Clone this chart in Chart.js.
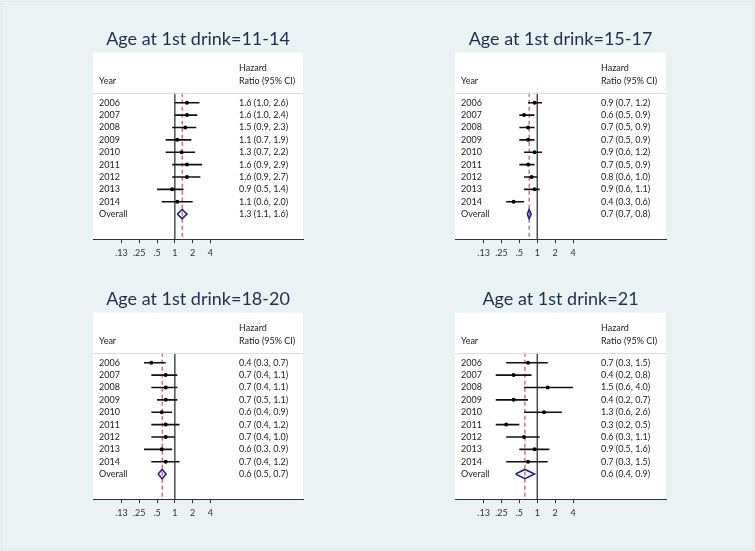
<!DOCTYPE html>
<html>
<head>
<meta charset="utf-8">
<script src="https://cdn.jsdelivr.net/npm/chart.js@4.4.1/dist/chart.umd.min.js"></script>
<style>
  html, body { margin: 0; padding: 0; }
  body { width: 755px; height: 551px; background: #eaf2f3; position: relative; overflow: hidden; }
  #frame { position: absolute; left: 1px; top: 1px; width: 751px; height: 547px; border: 1px solid #dfe8eb; }
  canvas { position: absolute; }
</style>
</head>
<body>
<div id="frame"></div>
<canvas id="c1" width="218" height="250" style="left:89px;top:20px"></canvas>
<canvas id="c2" width="219" height="250" style="left:451px;top:20px"></canvas>
<canvas id="c3" width="218" height="250" style="left:89px;top:280px"></canvas>
<canvas id="c4" width="219" height="250" style="left:451px;top:280px"></canvas>
<script>
// ---------- data ----------
const years = ["2006", "2007", "2008", "2009", "2010", "2011", "2012", "2013", "2014"];
const overallLabel = "Overall";
const tickValues = [0.125, 0.25, 0.5, 1, 2, 4];
const tickLabels = [".13", ".25", ".5", "1", "2", "4"];

const titles = ["Age at 1st drink=11-14", "Age at 1st drink=15-17", "Age at 1st drink=18-20", "Age at 1st drink=21"];

// Age 11-14
const hr1 = [1.6, 1.6, 1.5, 1.1, 1.3, 1.6, 1.6, 0.9, 1.1];
const lo1 = [1.0, 1.0, 0.9, 0.7, 0.7, 0.9, 0.9, 0.5, 0.6];
const hi1 = [2.6, 2.4, 2.3, 1.9, 2.2, 2.9, 2.7, 1.4, 2.0];
const ov1 = [1.33, 1.1, 1.6];   // estimate, lower, upper

// Age 15-17
const hr2 = [0.9, 0.6, 0.7, 0.7, 0.9, 0.7, 0.8, 0.9, 0.4];
const lo2 = [0.7, 0.5, 0.5, 0.5, 0.6, 0.5, 0.6, 0.6, 0.3];
const hi2 = [1.2, 0.9, 0.9, 0.9, 1.2, 0.9, 1.0, 1.1, 0.6];
const ov2 = [0.73, 0.68, 0.79];

// Age 18-20
const hr3 = [0.4, 0.7, 0.7, 0.7, 0.6, 0.7, 0.7, 0.6, 0.7];
const lo3 = [0.3, 0.4, 0.4, 0.5, 0.4, 0.4, 0.4, 0.3, 0.4];
const hi3 = [0.7, 1.1, 1.1, 1.1, 0.9, 1.2, 1.0, 0.9, 1.2];
const ov3 = [0.61, 0.52, 0.71];

// Age 21
const hr4 = [0.7, 0.4, 1.5, 0.4, 1.3, 0.3, 0.6, 0.9, 0.7];
const lo4 = [0.3, 0.2, 0.6, 0.2, 0.6, 0.2, 0.3, 0.5, 0.3];
const hi4 = [1.5, 0.8, 4.0, 0.7, 2.6, 0.5, 1.1, 1.6, 1.5];
const ov4 = [0.62, 0.43, 0.90];

// ---------- drawing ----------
const L2 = v => Math.log2(v);
const Y_MIN = -3.054, Y_MAX = 12.03;
const Y_HEAD1 = -1.84, Y_HEAD2 = -0.78, Y_SEP = 0.19;
const X_MIN = -4.6, X_MAX = 7.2;
const fmt = (e, l, h) => e.toFixed(1) + " (" + l.toFixed(1) + ", " + h.toFixed(1) + ")";

const boxPlugin = {
  id: 'forestBox',
  beforeDraw(chart) {
    const a = chart.chartArea, ctx = chart.ctx;
    ctx.save();
    ctx.fillStyle = '#ffffff';
    ctx.fillRect(a.left, a.top, a.right - a.left, a.bottom - a.top);
    ctx.restore();
  },
  afterDraw(chart) {
    const a = chart.chartArea, ctx = chart.ctx, ys = chart.scales.y;
    const o = chart.options.plugins.forestBox;
    ctx.save();
    // header separator
    ctx.strokeStyle = '#dddddd';
    ctx.lineWidth = 1;
    const sy = Math.round(ys.getPixelForValue(Y_SEP)) + 0.5;
    ctx.beginPath(); ctx.moveTo(a.left, sy); ctx.lineTo(a.right, sy); ctx.stroke();
    ctx.fillStyle = '#222222';
    ctx.font = '9px Lato';
    ctx.textBaseline = 'middle';
    ctx.textAlign = 'left';
    const xl = a.left + 6, xr = a.left + 146;
    ctx.fillText('Year', xl, ys.getPixelForValue(Y_HEAD2));
    ctx.fillText('Hazard', xr, ys.getPixelForValue(Y_HEAD1));
    ctx.fillText('Ratio (95% CI)', xr, ys.getPixelForValue(Y_HEAD2));
    years.forEach((yr, i) => {
      const y = ys.getPixelForValue(i + 1);
      ctx.fillText(yr, xl, y);
      ctx.fillText(fmt(o.hr[i], o.lo[i], o.hi[i]), xr, y);
    });
    const yo = ys.getPixelForValue(10);
    ctx.fillText(overallLabel, xl, yo);
    ctx.fillText(fmt(o.ov[0], o.ov[1], o.ov[2]), xr, yo);
    ctx.restore();
  }
};

function makePanel(id, title, hr, lo, hi, ov) {
  const datasets = [];
  // point estimates
  datasets.push({
    data: hr.map((v, i) => ({ x: L2(v), y: i + 1 })),
    pointRadius: 2, pointBackgroundColor: '#000', pointBorderColor: '#000', pointBorderWidth: 0,
    showLine: false
  });
  // confidence intervals
  hr.forEach((v, i) => {
    datasets.push({
      data: [{ x: L2(lo[i]), y: i + 1 }, { x: L2(hi[i]), y: i + 1 }],
      showLine: true, borderColor: '#111', borderWidth: 1.6, pointRadius: 0
    });
  });
  // overall diamond
  const dh = 0.37;
  datasets.push({
    data: [
      { x: L2(ov[1]), y: 10 }, { x: L2(ov[0]), y: 10 - dh },
      { x: L2(ov[2]), y: 10 }, { x: L2(ov[0]), y: 10 + dh },
      { x: L2(ov[1]), y: 10 }
    ],
    showLine: true, borderColor: '#23238a', borderWidth: 1.6, pointRadius: 0, fill: false, tension: 0
  });
  // overall dashed line
  datasets.push({
    data: [{ x: L2(ov[0]), y: Y_SEP }, { x: L2(ov[0]), y: Y_MAX }],
    showLine: true, borderColor: '#b0303c', borderWidth: 1, borderDash: [4, 3], pointRadius: 0
  });
  // null line at HR = 1
  datasets.push({
    data: [{ x: 0, y: Y_SEP }, { x: 0, y: Y_MAX }],
    showLine: true, borderColor: '#333', borderWidth: 1.3, pointRadius: 0
  });

  new Chart(document.getElementById(id), {
    type: 'scatter',
    data: { datasets },
    options: {
      responsive: false, animation: false, devicePixelRatio: 1,
      layout: { padding: { left: 0, right: 0, top: 0, bottom: 8 } },
      plugins: {
        legend: { display: false }, tooltip: { enabled: false },
        title: {
          display: true, text: title, color: '#1f2f4f',
          font: { family: 'Lato', size: 18, weight: 'normal' },
          padding: { top: 8, bottom: 3 }
        },
        forestBox: { hr, lo, hi, ov }
      },
      scales: {
        x: {
          type: 'linear', min: X_MIN, max: X_MAX,
          afterBuildTicks: s => { s.ticks = tickValues.map(v => ({ value: L2(v) })); },
          grid: { display: true, drawOnChartArea: false, drawTicks: true, tickLength: 4, color: '#333', lineWidth: 1 },
          border: { display: true, color: '#333', width: 1 },
          ticks: {
            autoSkip: false, maxRotation: 0, padding: 4, color: '#333',
            font: { family: 'Lato', size: 9 },
            callback: (v) => { const k = tickValues.findIndex(t => Math.abs(L2(t) - v) < 1e-6); return k >= 0 ? tickLabels[k] : ''; }
          }
        },
        y: { type: 'linear', display: false, reverse: true, min: Y_MIN, max: Y_MAX }
      }
    },
    plugins: [boxPlugin]
  });
}

makePanel('c1', titles[0], hr1, lo1, hi1, ov1);
makePanel('c2', titles[1], hr2, lo2, hi2, ov2);
makePanel('c3', titles[2], hr3, lo3, hi3, ov3);
makePanel('c4', titles[3], hr4, lo4, hi4, ov4);
</script>
</body>
</html>
